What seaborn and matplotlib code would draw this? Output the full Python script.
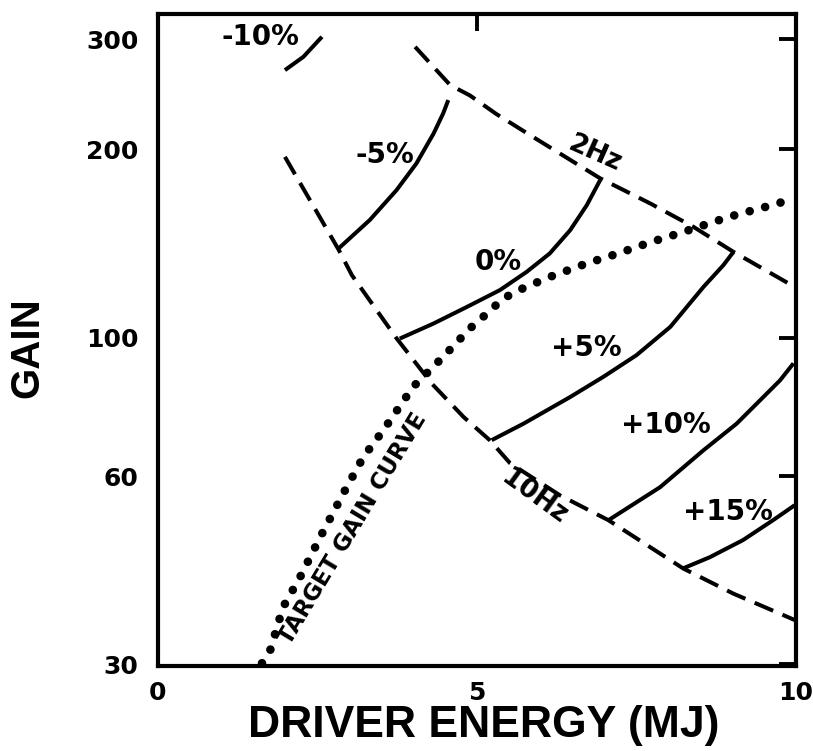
import numpy as np
import pandas as pd
import matplotlib
matplotlib.use("Agg")
import matplotlib.pyplot as plt
import seaborn as sns
from matplotlib.ticker import FixedLocator, FixedFormatter, NullLocator

# ---------------- data ----------------
target_x = [1.63, 1.76, 1.96, 2.23, 2.57, 2.93, 3.22, 3.53, 3.82, 4.0, 4.34, 4.52,
            4.89, 5.07, 5.41, 5.65, 6.14, 6.72, 7.21, 7.74, 8.16, 8.95, 9.73, 9.98]
target_y = [30.1, 31.6, 37.0, 41.4, 48.5, 56.9, 64.4, 71.0, 78.4, 83.4, 90.3, 94.3,
            103.4, 107.3, 115.4, 119.0, 125.0, 131.4, 136.3, 142.3, 146.7, 156, 164, 168]

hz2_x = [4.03, 4.58, 4.89, 5.3, 5.83, 6.93, 7.71, 8.39, 9.02, 9.93, 9.98]
hz2_y = [291.9, 253.5, 244, 228, 210.9, 179.8, 164, 150.4, 137.1, 121.3, 120.5]

hz10_x = [1.99, 2.83, 3.04, 3.73, 4.29, 4.79, 5.2, 5.52, 6.3, 7.06, 8.23, 9.02, 9.98]
hz10_y = [194.6, 138.3, 125.8, 100, 84.4, 74.6, 68.5, 62.9, 55.9, 51.0, 42.7, 38.9, 35.3]

m10_x = [1.99, 2.28, 2.57]
m10_y = [267.9, 281.4, 302.9]

m5_x = [2.83, 3.32, 3.74, 4.05, 4.32, 4.47, 4.55]
m5_y = [138.8, 154.2, 172.2, 189.9, 212.1, 228.4, 239.9]

p0_x = [3.79, 4.32, 4.84, 5.36, 5.78, 6.14, 6.46, 6.72, 6.93]
p0_y = [99.6, 105.3, 111.9, 119.1, 127.4, 136.3, 148.5, 162.8, 178.6]

p5_x = [5.23, 5.73, 6.46, 6.98, 7.50, 8.03, 8.55, 8.86, 9.02]
p5_y = [68.5, 72.8, 80.3, 86.5, 93.7, 104.0, 120.5, 130.5, 137.1]

p10_x = [7.06, 7.87, 8.55, 9.07, 9.44, 9.75, 9.96]
p10_y = [51.0, 57.6, 66.0, 72.8, 79.4, 85.4, 90.9]

p15_x = [8.23, 8.65, 9.17, 9.64, 9.98]
p15_y = [42.7, 44.5, 47.4, 51.0, 53.9]

contour_labels = ["-10%", "-5%", "0%", "+5%", "+10%", "+15%"]
contour_label_x = [1.60, 3.56, 5.33, 6.71, 7.96, 8.93]
contour_label_y = [302.6, 195.8, 132.0, 96.3, 72.4, 52.6]

x_ticks = [0, 5, 10]
y_ticks = [30, 60, 100, 200, 300]

# ---------------- style ----------------
sns.set_theme(style="white")
plt.rcParams["font.family"] = ["Liberation Sans", "DejaVu Sans"]
plt.rcParams["font.weight"] = "bold"
for k in ["text.color", "axes.labelcolor", "xtick.color", "ytick.color",
          "axes.edgecolor"]:
    plt.rcParams[k] = "black"
LAB_FONT = ["DejaVu Sans"]

fig = plt.figure(figsize=(8.13, 7.51), dpi=100)
ax = fig.add_axes([0.1943, 0.1132, 0.7848, 0.8682])
ax.set_yscale("log")

LW = 2.9
dash = (0, (5, 2.5))

def line(x, y, **kw):
    df = pd.DataFrame({"x": x, "y": y})
    sns.lineplot(data=df, x="x", y="y", sort=False, estimator=None,
                 color="black", ax=ax, legend=False, **kw)

# contour lines (solid)
for xs, ys in [(m10_x, m10_y), (m5_x, m5_y), (p0_x, p0_y),
               (p5_x, p5_y), (p10_x, p10_y), (p15_x, p15_y)]:
    line(xs, ys, lw=LW, solid_capstyle="butt")

# rep-rate lines (dashed)
line(hz2_x, hz2_y, lw=LW, linestyle=dash)
line(hz10_x, hz10_y, lw=LW, linestyle=dash)

# target gain curve (dotted, big round dots)
line(target_x, target_y, lw=6.2, linestyle=(0, (0.01, 1.85)),
     dash_capstyle="round")

# labels
for t, x, y in zip(contour_labels, contour_label_x, contour_label_y):
    ax.text(x, y, t, fontsize=20, fontweight="bold", family=LAB_FONT,
            color="black", ha="center", va="center")
ax.text(6.85, 196.6, "2Hz", fontsize=19, fontweight="bold", family=LAB_FONT,
        color="black", rotation=-24, ha="center", va="center",
        rotation_mode="anchor")
ax.text(5.89, 55.6, "10Hz", fontsize=19, fontweight="bold", family=LAB_FONT,
        color="black", rotation=-36, ha="center", va="center",
        rotation_mode="anchor")
ax.text(3.06, 49.5, "TARGET GAIN CURVE", fontsize=16.5, fontweight="bold",
        family=LAB_FONT, color="black", rotation=59, ha="center", va="center",
        rotation_mode="anchor")

# axes
ax.set_xlim(0, 10)
ax.set_ylim(29.8, 329.5)
ax.xaxis.set_major_locator(FixedLocator(x_ticks))
ax.xaxis.set_major_formatter(FixedFormatter([str(v) for v in x_ticks]))
ax.yaxis.set_major_locator(FixedLocator(y_ticks))
ax.yaxis.set_major_formatter(FixedFormatter([str(v) for v in y_ticks]))
ax.yaxis.set_minor_locator(NullLocator())
ax.xaxis.set_minor_locator(NullLocator())
ax.tick_params(axis="both", direction="in", length=12, width=2.8,
               top=True, right=True, labelsize=18, color="black",
               labelcolor="black")
ax.tick_params(axis="y", pad=14)
ax.tick_params(axis="x", pad=11)
for lab in ax.get_xticklabels() + ax.get_yticklabels():
    lab.set_fontweight("bold")
    lab.set_family(LAB_FONT)
for sp in ax.spines.values():
    sp.set_linewidth(3.0)
    sp.set_color("black")
ax.set_xlabel("DRIVER ENERGY (MJ)", fontsize=32, fontweight="bold",
              va="center", color="black")
ax.xaxis.set_label_coords(0.51, -0.091)
ax.set_ylabel("GAIN", fontsize=29, fontweight="bold", va="center",
              color="black")
ax.yaxis.set_label_coords(-0.205, 0.488)

fig.savefig("out.png", dpi=100, facecolor="white")
